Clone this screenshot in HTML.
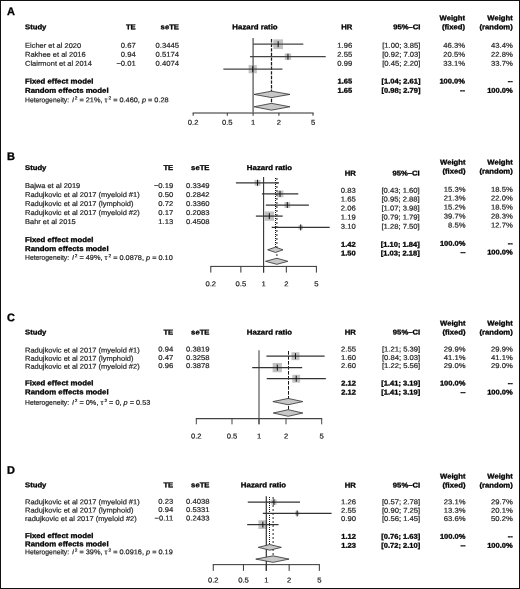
<!DOCTYPE html>
<html><head><meta charset="utf-8"><title>Forest plots</title>
<style>
html,body{margin:0;padding:0;background:#fff;}
body{width:520px;height:589px;overflow:hidden;position:relative;}
svg{position:absolute;left:0;top:0;display:block;}
text{font-family:"Liberation Sans",sans-serif;font-size:7px;fill:#242424;stroke:#242424;stroke-width:0.2px;}
text.b{font-weight:bold;fill:#000;stroke:#000;stroke-width:0.3px;}
#frame{position:absolute;left:0;top:0;width:518px;height:587px;border:1px solid #111;}
</style></head><body>
<svg width="520" height="589" viewBox="0 0 520 589">
<text class="b" text-anchor="start" transform="translate(7.00 14.95) scale(1 1) skewY(0.04)" style="font-size:11px" fill="#000">A</text>
<text class="b" text-anchor="start" transform="translate(25.00 29.15) scale(1.1 1) skewY(0.04)">Study</text>
<text class="b" text-anchor="end" transform="translate(135.75 29.15) scale(1.1 1) skewY(0.04)">TE</text>
<text class="b" text-anchor="end" transform="translate(179.00 29.15) scale(1.1 1) skewY(0.04)">seTE</text>
<text class="b" text-anchor="middle" transform="translate(255.00 29.15) scale(1.12 1) skewY(0.04)">Hazard ratio</text>
<text class="b" text-anchor="end" transform="translate(352.25 29.15) scale(1.1 1) skewY(0.04)">HR</text>
<text class="b" text-anchor="end" transform="translate(420.50 29.15) scale(1.1 1) skewY(0.04)">95%–CI</text>
<text class="b" text-anchor="end" transform="translate(465.00 20.15) scale(1.1 1) skewY(0.04)">Weight</text>
<text class="b" text-anchor="end" transform="translate(465.00 29.15) scale(1.1 1) skewY(0.04)">(fixed)</text>
<text class="b" text-anchor="end" transform="translate(512.75 20.15) scale(1.1 1) skewY(0.04)">Weight</text>
<text class="b" text-anchor="end" transform="translate(512.75 29.15) scale(1.1 1) skewY(0.04)">(random)</text>
<text class="r" text-anchor="start" transform="translate(25.00 47.85) scale(1.07 1) skewY(0.04)">Eicher et al 2020</text>
<text class="r" text-anchor="end" transform="translate(135.75 47.85) scale(1.095 1) skewY(0.04)">0.67</text>
<text class="r" text-anchor="end" transform="translate(179.00 47.85) scale(1.095 1) skewY(0.04)">0.3445</text>
<text class="r" text-anchor="end" transform="translate(352.25 47.85) scale(1.095 1) skewY(0.04)">1.96</text>
<text class="r" text-anchor="end" transform="translate(420.50 47.85) scale(1.095 1) skewY(0.04)">[1.00; 3.85]</text>
<text class="r" text-anchor="end" transform="translate(465.00 47.85) scale(1.095 1) skewY(0.04)">46.3%</text>
<text class="r" text-anchor="end" transform="translate(512.75 47.85) scale(1.095 1) skewY(0.04)">43.4%</text>
<text class="r" text-anchor="start" transform="translate(25.00 56.75) scale(1.07 1) skewY(0.04)">Rakhee et al 2016</text>
<text class="r" text-anchor="end" transform="translate(135.75 56.75) scale(1.095 1) skewY(0.04)">0.94</text>
<text class="r" text-anchor="end" transform="translate(179.00 56.75) scale(1.095 1) skewY(0.04)">0.5174</text>
<text class="r" text-anchor="end" transform="translate(352.25 56.75) scale(1.095 1) skewY(0.04)">2.55</text>
<text class="r" text-anchor="end" transform="translate(420.50 56.75) scale(1.095 1) skewY(0.04)">[0.92; 7.03]</text>
<text class="r" text-anchor="end" transform="translate(465.00 56.75) scale(1.095 1) skewY(0.04)">20.5%</text>
<text class="r" text-anchor="end" transform="translate(512.75 56.75) scale(1.095 1) skewY(0.04)">22.8%</text>
<text class="r" text-anchor="start" transform="translate(25.00 65.65) scale(1.07 1) skewY(0.04)">Clairmont et al 2014</text>
<text class="r" text-anchor="end" transform="translate(135.75 65.65) scale(1.095 1) skewY(0.04)">−0.01</text>
<text class="r" text-anchor="end" transform="translate(179.00 65.65) scale(1.095 1) skewY(0.04)">0.4074</text>
<text class="r" text-anchor="end" transform="translate(352.25 65.65) scale(1.095 1) skewY(0.04)">0.99</text>
<text class="r" text-anchor="end" transform="translate(420.50 65.65) scale(1.095 1) skewY(0.04)">[0.45; 2.20]</text>
<text class="r" text-anchor="end" transform="translate(465.00 65.65) scale(1.095 1) skewY(0.04)">33.1%</text>
<text class="r" text-anchor="end" transform="translate(512.75 65.65) scale(1.095 1) skewY(0.04)">33.7%</text>
<text class="b" text-anchor="start" transform="translate(25.00 83.55) scale(1.115 1) skewY(0.04)">Fixed effect model</text>
<text class="b" text-anchor="end" transform="translate(352.25 83.55) scale(1.08 1) skewY(0.04)">1.65</text>
<text class="b" text-anchor="end" transform="translate(420.50 83.55) scale(1.08 1) skewY(0.04)">[1.04; 2.61]</text>
<text class="b" text-anchor="end" transform="translate(465.00 83.55) scale(1.08 1) skewY(0.04)">100.0%</text>
<text class="b" text-anchor="end" transform="translate(512.75 83.55) scale(1.08 1) skewY(0.04)">--</text>
<text class="b" text-anchor="start" transform="translate(25.00 92.65) scale(1.115 1) skewY(0.04)">Random effects model</text>
<text class="b" text-anchor="end" transform="translate(352.25 92.65) scale(1.08 1) skewY(0.04)">1.65</text>
<text class="b" text-anchor="end" transform="translate(420.50 92.65) scale(1.08 1) skewY(0.04)">[0.98; 2.79]</text>
<text class="b" text-anchor="end" transform="translate(465.00 92.65) scale(1.08 1) skewY(0.04)">--</text>
<text class="b" text-anchor="end" transform="translate(512.75 92.65) scale(1.08 1) skewY(0.04)">100.0%</text>
<text class="r" style="font-size:6.9px" transform="translate(25 102.15) scale(0.985 1) skewY(0.04)">Heterogeneity:</text>
<text class="r" style="font-size:6.9px" transform="translate(72.10 102.15) scale(1.065 1) skewY(0.04)"><tspan font-style="italic">I</tspan><tspan dy="-2.6" dx="0.6" font-size="4.5">2</tspan><tspan dy="2.6"> = 21%, τ</tspan><tspan dy="-2.6" dx="1.0" font-size="4.5">2</tspan><tspan dy="2.6"> = 0.460, </tspan><tspan font-style="italic">p</tspan> = 0.28</text>
<rect x="273.31" y="39.35" width="9.70" height="9.70" fill="#c2c2c2"/>
<rect x="284.73" y="53.47" width="6.45" height="6.45" fill="#c2c2c2"/>
<rect x="248.62" y="65.10" width="8.20" height="8.20" fill="#c2c2c2"/>
<line x1="253.10" y1="38.10" x2="253.10" y2="113.00" stroke="#707070" stroke-width="1.5"/>
<line x1="271.50" y1="39.00" x2="271.50" y2="106.75" stroke="#1a1a1a" stroke-width="1.25" stroke-dasharray="3.40 1.20"/>
<line x1="253.10" y1="44.20" x2="303.30" y2="44.20" stroke="#444" stroke-width="1.2"/>
<line x1="278.16" y1="41.20" x2="278.16" y2="47.20" stroke="#111" stroke-width="1"/>
<line x1="249.99" y1="56.70" x2="325.72" y2="56.70" stroke="#444" stroke-width="1.2"/>
<line x1="287.96" y1="53.70" x2="287.96" y2="59.70" stroke="#111" stroke-width="1"/>
<line x1="223.36" y1="69.20" x2="282.46" y2="69.20" stroke="#444" stroke-width="1.2"/>
<line x1="252.73" y1="66.20" x2="252.73" y2="72.20" stroke="#111" stroke-width="1"/>
<polygon points="254.05,94.40 271.50,91.20 289.95,94.40 271.50,97.60" fill="#c8c8c8" stroke="#2e2e2e" stroke-width="0.8" stroke-linejoin="miter"/>
<polygon points="254.05,106.75 271.50,103.35 289.95,106.75 271.50,110.15" fill="#c8c8c8" stroke="#2e2e2e" stroke-width="0.8" stroke-linejoin="miter"/>
<line x1="192.66" y1="113.00" x2="313.54" y2="113.00" stroke="#707070" stroke-width="1.5"/>
<line x1="193.16" y1="113.00" x2="193.16" y2="115.80" stroke="#333" stroke-width="1"/>
<text class="r" text-anchor="middle" transform="translate(193.16 124.85) scale(1.095 1) skewY(0.04)">0.2</text>
<line x1="227.29" y1="113.00" x2="227.29" y2="115.80" stroke="#333" stroke-width="1"/>
<text class="r" text-anchor="middle" transform="translate(227.29 124.85) scale(1.095 1) skewY(0.04)">0.5</text>
<line x1="253.10" y1="113.00" x2="253.10" y2="115.80" stroke="#333" stroke-width="1"/>
<text class="r" text-anchor="middle" transform="translate(253.10 124.85) scale(1.095 1) skewY(0.04)">1</text>
<line x1="278.91" y1="113.00" x2="278.91" y2="115.80" stroke="#333" stroke-width="1"/>
<text class="r" text-anchor="middle" transform="translate(278.91 124.85) scale(1.095 1) skewY(0.04)">2</text>
<line x1="313.04" y1="113.00" x2="313.04" y2="115.80" stroke="#333" stroke-width="1"/>
<text class="r" text-anchor="middle" transform="translate(313.04 124.85) scale(1.095 1) skewY(0.04)">5</text>
<text class="b" text-anchor="start" transform="translate(7.00 159.95) scale(1 1) skewY(0.04)" style="font-size:11px" fill="#000">B</text>
<text class="b" text-anchor="start" transform="translate(25.00 169.90) scale(1.1 1) skewY(0.04)">Study</text>
<text class="b" text-anchor="end" transform="translate(173.25 169.90) scale(1.1 1) skewY(0.04)">TE</text>
<text class="b" text-anchor="end" transform="translate(209.50 169.90) scale(1.1 1) skewY(0.04)">seTE</text>
<text class="b" text-anchor="middle" transform="translate(269.50 169.90) scale(1.12 1) skewY(0.04)">Hazard ratio</text>
<text class="b" text-anchor="end" transform="translate(355.75 175.40) scale(1.1 1) skewY(0.04)">HR</text>
<text class="b" text-anchor="end" transform="translate(419.75 175.40) scale(1.1 1) skewY(0.04)">95%–CI</text>
<text class="b" text-anchor="end" transform="translate(465.50 164.40) scale(1.1 1) skewY(0.04)">Weight</text>
<text class="b" text-anchor="end" transform="translate(465.50 173.40) scale(1.1 1) skewY(0.04)">(fixed)</text>
<text class="b" text-anchor="end" transform="translate(512.75 164.40) scale(1.1 1) skewY(0.04)">Weight</text>
<text class="b" text-anchor="end" transform="translate(512.75 173.40) scale(1.1 1) skewY(0.04)">(random)</text>
<text class="r" text-anchor="start" transform="translate(25.00 187.90) scale(1.07 1) skewY(0.04)">Bajwa et al 2019</text>
<text class="r" text-anchor="end" transform="translate(173.25 187.90) scale(1.095 1) skewY(0.04)">−0.19</text>
<text class="r" text-anchor="end" transform="translate(209.50 187.90) scale(1.095 1) skewY(0.04)">0.3349</text>
<text class="r" text-anchor="end" transform="translate(355.75 192.65) scale(1.095 1) skewY(0.04)">0.83</text>
<text class="r" text-anchor="end" transform="translate(419.75 192.65) scale(1.095 1) skewY(0.04)">[0.43; 1.60]</text>
<text class="r" text-anchor="end" transform="translate(465.50 191.65) scale(1.095 1) skewY(0.04)">15.3%</text>
<text class="r" text-anchor="end" transform="translate(512.75 191.65) scale(1.095 1) skewY(0.04)">18.5%</text>
<text class="r" text-anchor="start" transform="translate(25.00 196.90) scale(1.07 1) skewY(0.04)">Radujkovic et al 2017 (myeloid #1)</text>
<text class="r" text-anchor="end" transform="translate(173.25 196.90) scale(1.095 1) skewY(0.04)">0.50</text>
<text class="r" text-anchor="end" transform="translate(209.50 196.90) scale(1.095 1) skewY(0.04)">0.2842</text>
<text class="r" text-anchor="end" transform="translate(355.75 201.55) scale(1.095 1) skewY(0.04)">1.65</text>
<text class="r" text-anchor="end" transform="translate(419.75 201.55) scale(1.095 1) skewY(0.04)">[0.95; 2.88]</text>
<text class="r" text-anchor="end" transform="translate(465.50 200.45) scale(1.095 1) skewY(0.04)">21.3%</text>
<text class="r" text-anchor="end" transform="translate(512.75 200.45) scale(1.095 1) skewY(0.04)">22.0%</text>
<text class="r" text-anchor="start" transform="translate(25.00 205.90) scale(1.07 1) skewY(0.04)">Radujkovic et al 2017 (lymphoid)</text>
<text class="r" text-anchor="end" transform="translate(173.25 205.90) scale(1.095 1) skewY(0.04)">0.72</text>
<text class="r" text-anchor="end" transform="translate(209.50 205.90) scale(1.095 1) skewY(0.04)">0.3360</text>
<text class="r" text-anchor="end" transform="translate(355.75 210.45) scale(1.095 1) skewY(0.04)">2.06</text>
<text class="r" text-anchor="end" transform="translate(419.75 210.45) scale(1.095 1) skewY(0.04)">[1.07; 3.98]</text>
<text class="r" text-anchor="end" transform="translate(465.50 209.45) scale(1.095 1) skewY(0.04)">15.2%</text>
<text class="r" text-anchor="end" transform="translate(512.75 209.45) scale(1.095 1) skewY(0.04)">18.5%</text>
<text class="r" text-anchor="start" transform="translate(25.00 214.90) scale(1.07 1) skewY(0.04)">Radujkovic et al 2017 (myeloid #2)</text>
<text class="r" text-anchor="end" transform="translate(173.25 214.90) scale(1.095 1) skewY(0.04)">0.17</text>
<text class="r" text-anchor="end" transform="translate(209.50 214.90) scale(1.095 1) skewY(0.04)">0.2083</text>
<text class="r" text-anchor="end" transform="translate(355.75 219.45) scale(1.095 1) skewY(0.04)">1.19</text>
<text class="r" text-anchor="end" transform="translate(419.75 219.45) scale(1.095 1) skewY(0.04)">[0.79; 1.79]</text>
<text class="r" text-anchor="end" transform="translate(465.50 218.45) scale(1.095 1) skewY(0.04)">39.7%</text>
<text class="r" text-anchor="end" transform="translate(512.75 218.45) scale(1.095 1) skewY(0.04)">28.3%</text>
<text class="r" text-anchor="start" transform="translate(25.00 223.90) scale(1.07 1) skewY(0.04)">Bahr et al 2015</text>
<text class="r" text-anchor="end" transform="translate(173.25 223.90) scale(1.095 1) skewY(0.04)">1.13</text>
<text class="r" text-anchor="end" transform="translate(209.50 223.90) scale(1.095 1) skewY(0.04)">0.4508</text>
<text class="r" text-anchor="end" transform="translate(355.75 228.75) scale(1.095 1) skewY(0.04)">3.10</text>
<text class="r" text-anchor="end" transform="translate(419.75 228.75) scale(1.095 1) skewY(0.04)">[1.28; 7.50]</text>
<text class="r" text-anchor="end" transform="translate(465.50 227.45) scale(1.095 1) skewY(0.04)">8.5%</text>
<text class="r" text-anchor="end" transform="translate(512.75 227.45) scale(1.095 1) skewY(0.04)">12.7%</text>
<text class="b" text-anchor="start" transform="translate(25.00 242.05) scale(1.115 1) skewY(0.04)">Fixed effect model</text>
<text class="b" text-anchor="end" transform="translate(355.75 246.65) scale(1.08 1) skewY(0.04)">1.42</text>
<text class="b" text-anchor="end" transform="translate(419.75 246.65) scale(1.08 1) skewY(0.04)">[1.10; 1.84]</text>
<text class="b" text-anchor="end" transform="translate(465.50 245.65) scale(1.08 1) skewY(0.04)">100.0%</text>
<text class="b" text-anchor="end" transform="translate(512.75 245.65) scale(1.08 1) skewY(0.04)">--</text>
<text class="b" text-anchor="start" transform="translate(25.00 250.95) scale(1.115 1) skewY(0.04)">Random effects model</text>
<text class="b" text-anchor="end" transform="translate(355.75 255.45) scale(1.08 1) skewY(0.04)">1.50</text>
<text class="b" text-anchor="end" transform="translate(419.75 255.45) scale(1.08 1) skewY(0.04)">[1.03; 2.18]</text>
<text class="b" text-anchor="end" transform="translate(465.50 254.45) scale(1.08 1) skewY(0.04)">--</text>
<text class="b" text-anchor="end" transform="translate(512.75 254.45) scale(1.08 1) skewY(0.04)">100.0%</text>
<text class="r" style="font-size:6.9px" transform="translate(25 259.85) scale(0.985 1) skewY(0.04)">Heterogeneity:</text>
<text class="r" style="font-size:6.9px" transform="translate(72.10 259.85) scale(1.065 1) skewY(0.04)"><tspan font-style="italic">I</tspan><tspan dy="-2.6" dx="0.6" font-size="4.5">2</tspan><tspan dy="2.6"> = 49%, τ</tspan><tspan dy="-2.6" dx="1.0" font-size="4.5">2</tspan><tspan dy="2.6"> = 0.0878, </tspan><tspan font-style="italic">p</tspan> = 0.10</text>
<rect x="254.60" y="179.91" width="5.77" height="5.77" fill="#c2c2c2"/>
<rect x="276.62" y="190.49" width="6.81" height="6.81" fill="#c2c2c2"/>
<rect x="284.43" y="202.12" width="5.75" height="5.75" fill="#c2c2c2"/>
<rect x="264.66" y="211.45" width="9.30" height="9.30" fill="#c2c2c2"/>
<rect x="298.56" y="225.25" width="4.30" height="4.30" fill="#c2c2c2"/>
<line x1="263.60" y1="177.10" x2="263.60" y2="272.60" stroke="#333" stroke-width="1.1"/>
<line x1="276.90" y1="178.00" x2="276.90" y2="261.30" stroke="#4a4a4a" stroke-width="1.2" stroke-dasharray="2.00 2.00"/>
<line x1="275.50" y1="178.00" x2="275.50" y2="249.80" stroke="#111" stroke-width="1" stroke-dasharray="1.00 1.00"/>
<line x1="235.92" y1="182.80" x2="279.02" y2="182.80" stroke="#333" stroke-width="1.25"/>
<line x1="257.49" y1="179.80" x2="257.49" y2="185.80" stroke="#111" stroke-width="1"/>
<line x1="261.92" y1="193.90" x2="298.30" y2="193.90" stroke="#333" stroke-width="1.25"/>
<line x1="280.03" y1="190.90" x2="280.03" y2="196.90" stroke="#111" stroke-width="1"/>
<line x1="265.82" y1="205.00" x2="308.91" y2="205.00" stroke="#333" stroke-width="1.25"/>
<line x1="287.30" y1="202.00" x2="287.30" y2="208.00" stroke="#111" stroke-width="1"/>
<line x1="255.87" y1="216.10" x2="282.70" y2="216.10" stroke="#333" stroke-width="1.25"/>
<line x1="269.31" y1="213.10" x2="269.31" y2="219.10" stroke="#111" stroke-width="1"/>
<line x1="271.70" y1="227.40" x2="329.69" y2="227.40" stroke="#333" stroke-width="1.25"/>
<line x1="300.71" y1="224.40" x2="300.71" y2="230.40" stroke="#111" stroke-width="1"/>
<polygon points="267.65,249.80 275.50,247.15 283.05,249.80 275.50,252.45" fill="#c8c8c8" stroke="#2e2e2e" stroke-width="0.8" stroke-linejoin="miter"/>
<polygon points="265.45,261.30 276.90,258.28 287.85,261.30 276.90,264.32" fill="#c8c8c8" stroke="#2e2e2e" stroke-width="0.8" stroke-linejoin="miter"/>
<line x1="210.31" y1="266.40" x2="316.89" y2="266.40" stroke="#333" stroke-width="1"/>
<line x1="210.81" y1="266.40" x2="210.81" y2="272.60" stroke="#333" stroke-width="1"/>
<text class="r" text-anchor="middle" transform="translate(210.81 286.15) scale(1.095 1) skewY(0.04)">0.2</text>
<line x1="240.86" y1="266.40" x2="240.86" y2="272.60" stroke="#333" stroke-width="1"/>
<text class="r" text-anchor="middle" transform="translate(240.86 286.15) scale(1.095 1) skewY(0.04)">0.5</text>
<line x1="263.60" y1="266.40" x2="263.60" y2="272.60" stroke="#333" stroke-width="1"/>
<text class="r" text-anchor="middle" transform="translate(263.60 286.15) scale(1.095 1) skewY(0.04)">1</text>
<line x1="286.34" y1="266.40" x2="286.34" y2="272.60" stroke="#333" stroke-width="1"/>
<text class="r" text-anchor="middle" transform="translate(286.34 286.15) scale(1.095 1) skewY(0.04)">2</text>
<line x1="316.39" y1="266.40" x2="316.39" y2="272.60" stroke="#333" stroke-width="1"/>
<text class="r" text-anchor="middle" transform="translate(316.39 286.15) scale(1.095 1) skewY(0.04)">5</text>
<text class="b" text-anchor="start" transform="translate(7.00 321.35) scale(1 1) skewY(0.04)" style="font-size:11px" fill="#000">C</text>
<text class="b" text-anchor="start" transform="translate(25.00 334.40) scale(1.1 1) skewY(0.04)">Study</text>
<text class="b" text-anchor="end" transform="translate(173.25 334.40) scale(1.1 1) skewY(0.04)">TE</text>
<text class="b" text-anchor="end" transform="translate(209.50 334.40) scale(1.1 1) skewY(0.04)">seTE</text>
<text class="b" text-anchor="middle" transform="translate(269.50 334.40) scale(1.12 1) skewY(0.04)">Hazard ratio</text>
<text class="b" text-anchor="end" transform="translate(355.90 334.40) scale(1.1 1) skewY(0.04)">HR</text>
<text class="b" text-anchor="end" transform="translate(420.20 334.40) scale(1.1 1) skewY(0.04)">95%–CI</text>
<text class="b" text-anchor="end" transform="translate(465.50 325.40) scale(1.1 1) skewY(0.04)">Weight</text>
<text class="b" text-anchor="end" transform="translate(465.50 334.40) scale(1.1 1) skewY(0.04)">(fixed)</text>
<text class="b" text-anchor="end" transform="translate(512.75 325.40) scale(1.1 1) skewY(0.04)">Weight</text>
<text class="b" text-anchor="end" transform="translate(512.75 334.40) scale(1.1 1) skewY(0.04)">(random)</text>
<text class="r" text-anchor="start" transform="translate(25.00 352.40) scale(1.07 1) skewY(0.04)">Radujkovic et al 2017 (myeloid #1)</text>
<text class="r" text-anchor="end" transform="translate(173.25 351.55) scale(1.095 1) skewY(0.04)">0.94</text>
<text class="r" text-anchor="end" transform="translate(209.50 351.55) scale(1.095 1) skewY(0.04)">0.3819</text>
<text class="r" text-anchor="end" transform="translate(355.90 351.55) scale(1.095 1) skewY(0.04)">2.55</text>
<text class="r" text-anchor="end" transform="translate(420.20 351.55) scale(1.095 1) skewY(0.04)">[1.21; 5.39]</text>
<text class="r" text-anchor="end" transform="translate(465.50 351.55) scale(1.095 1) skewY(0.04)">29.9%</text>
<text class="r" text-anchor="end" transform="translate(512.75 351.55) scale(1.095 1) skewY(0.04)">29.9%</text>
<text class="r" text-anchor="start" transform="translate(25.00 360.65) scale(1.07 1) skewY(0.04)">Radujkovic et al 2017 (lymphoid)</text>
<text class="r" text-anchor="end" transform="translate(173.25 359.95) scale(1.095 1) skewY(0.04)">0.47</text>
<text class="r" text-anchor="end" transform="translate(209.50 359.95) scale(1.095 1) skewY(0.04)">0.3258</text>
<text class="r" text-anchor="end" transform="translate(355.90 359.95) scale(1.095 1) skewY(0.04)">1.60</text>
<text class="r" text-anchor="end" transform="translate(420.20 359.95) scale(1.095 1) skewY(0.04)">[0.84; 3.03]</text>
<text class="r" text-anchor="end" transform="translate(465.50 359.95) scale(1.095 1) skewY(0.04)">41.1%</text>
<text class="r" text-anchor="end" transform="translate(512.75 359.95) scale(1.095 1) skewY(0.04)">41.1%</text>
<text class="r" text-anchor="start" transform="translate(25.00 368.75) scale(1.07 1) skewY(0.04)">Radujkovic et al 2017 (myeloid #2)</text>
<text class="r" text-anchor="end" transform="translate(173.25 368.05) scale(1.095 1) skewY(0.04)">0.96</text>
<text class="r" text-anchor="end" transform="translate(209.50 368.05) scale(1.095 1) skewY(0.04)">0.3878</text>
<text class="r" text-anchor="end" transform="translate(355.90 368.05) scale(1.095 1) skewY(0.04)">2.60</text>
<text class="r" text-anchor="end" transform="translate(420.20 368.05) scale(1.095 1) skewY(0.04)">[1.22; 5.56]</text>
<text class="r" text-anchor="end" transform="translate(465.50 368.05) scale(1.095 1) skewY(0.04)">29.0%</text>
<text class="r" text-anchor="end" transform="translate(512.75 368.05) scale(1.095 1) skewY(0.04)">29.0%</text>
<text class="b" text-anchor="start" transform="translate(25.00 385.15) scale(1.115 1) skewY(0.04)">Fixed effect model</text>
<text class="b" text-anchor="end" transform="translate(355.90 385.55) scale(1.08 1) skewY(0.04)">2.12</text>
<text class="b" text-anchor="end" transform="translate(420.20 385.55) scale(1.08 1) skewY(0.04)">[1.41; 3.19]</text>
<text class="b" text-anchor="end" transform="translate(465.50 385.55) scale(1.08 1) skewY(0.04)">100.0%</text>
<text class="b" text-anchor="end" transform="translate(512.75 385.55) scale(1.08 1) skewY(0.04)">--</text>
<text class="b" text-anchor="start" transform="translate(25.00 394.15) scale(1.115 1) skewY(0.04)">Random effects model</text>
<text class="b" text-anchor="end" transform="translate(355.90 394.55) scale(1.08 1) skewY(0.04)">2.12</text>
<text class="b" text-anchor="end" transform="translate(420.20 394.55) scale(1.08 1) skewY(0.04)">[1.41; 3.19]</text>
<text class="b" text-anchor="end" transform="translate(465.50 394.55) scale(1.08 1) skewY(0.04)">--</text>
<text class="b" text-anchor="end" transform="translate(512.75 394.55) scale(1.08 1) skewY(0.04)">100.0%</text>
<text class="r" style="font-size:6.9px" transform="translate(25 404.65) scale(0.985 1) skewY(0.04)">Heterogeneity:</text>
<text class="r" style="font-size:6.9px" transform="translate(72.10 404.65) scale(1.065 1) skewY(0.04)"><tspan font-style="italic">I</tspan><tspan dy="-2.6" dx="0.6" font-size="4.5">2</tspan><tspan dy="2.6"> = 0%, τ</tspan><tspan dy="-2.6" dx="1.0" font-size="4.5">2</tspan><tspan dy="2.6"> = 0, </tspan><tspan font-style="italic">p</tspan> = 0.53</text>
<rect x="291.50" y="352.23" width="7.93" height="7.93" fill="#c2c2c2"/>
<rect x="272.66" y="362.95" width="9.30" height="9.30" fill="#c2c2c2"/>
<rect x="292.32" y="374.79" width="7.81" height="7.81" fill="#c2c2c2"/>
<line x1="259.00" y1="350.30" x2="259.00" y2="424.30" stroke="#484848" stroke-width="1.1"/>
<line x1="288.50" y1="351.00" x2="288.50" y2="413.00" stroke="#1a1a1a" stroke-width="1" stroke-dasharray="3.70 1.30"/>
<line x1="266.43" y1="356.20" x2="324.63" y2="356.20" stroke="#333" stroke-width="1.25"/>
<line x1="295.47" y1="353.20" x2="295.47" y2="359.20" stroke="#111" stroke-width="1"/>
<line x1="252.21" y1="367.60" x2="302.19" y2="367.60" stroke="#333" stroke-width="1.25"/>
<line x1="277.31" y1="364.60" x2="277.31" y2="370.60" stroke="#111" stroke-width="1"/>
<line x1="266.75" y1="378.70" x2="325.84" y2="378.70" stroke="#333" stroke-width="1.25"/>
<line x1="296.23" y1="375.70" x2="296.23" y2="381.70" stroke="#111" stroke-width="1"/>
<polygon points="272.85,401.60 288.20,398.45 302.85,401.60 288.20,404.75" fill="#c8c8c8" stroke="#2e2e2e" stroke-width="0.8" stroke-linejoin="miter"/>
<polygon points="273.25,413.00 288.20,409.70 302.85,413.00 288.20,416.30" fill="#c8c8c8" stroke="#2e2e2e" stroke-width="0.8" stroke-linejoin="miter"/>
<line x1="195.80" y1="418.70" x2="322.20" y2="418.70" stroke="#444" stroke-width="1.2"/>
<line x1="196.30" y1="418.70" x2="196.30" y2="424.30" stroke="#444" stroke-width="1"/>
<text class="r" text-anchor="middle" transform="translate(196.30 438.45) scale(1.095 1) skewY(0.04)">0.2</text>
<line x1="231.99" y1="418.70" x2="231.99" y2="424.30" stroke="#444" stroke-width="1"/>
<text class="r" text-anchor="middle" transform="translate(231.99 438.45) scale(1.095 1) skewY(0.04)">0.5</text>
<line x1="259.00" y1="418.70" x2="259.00" y2="424.30" stroke="#444" stroke-width="1"/>
<text class="r" text-anchor="middle" transform="translate(259.00 438.45) scale(1.095 1) skewY(0.04)">1</text>
<line x1="286.01" y1="418.70" x2="286.01" y2="424.30" stroke="#444" stroke-width="1"/>
<text class="r" text-anchor="middle" transform="translate(286.01 438.45) scale(1.095 1) skewY(0.04)">2</text>
<line x1="321.70" y1="418.70" x2="321.70" y2="424.30" stroke="#444" stroke-width="1"/>
<text class="r" text-anchor="middle" transform="translate(321.70 438.45) scale(1.095 1) skewY(0.04)">5</text>
<text class="b" text-anchor="start" transform="translate(7.00 473.75) scale(1 1) skewY(0.04)" style="font-size:11px" fill="#000">D</text>
<text class="b" text-anchor="start" transform="translate(25.00 487.35) scale(1.1 1) skewY(0.04)">Study</text>
<text class="b" text-anchor="end" transform="translate(173.25 487.35) scale(1.1 1) skewY(0.04)">TE</text>
<text class="b" text-anchor="end" transform="translate(209.50 487.35) scale(1.1 1) skewY(0.04)">seTE</text>
<text class="b" text-anchor="middle" transform="translate(263.50 487.35) scale(1.12 1) skewY(0.04)">Hazard ratio</text>
<text class="b" text-anchor="end" transform="translate(355.90 487.60) scale(1.1 1) skewY(0.04)">HR</text>
<text class="b" text-anchor="end" transform="translate(420.20 487.60) scale(1.1 1) skewY(0.04)">95%–CI</text>
<text class="b" text-anchor="end" transform="translate(465.50 478.60) scale(1.1 1) skewY(0.04)">Weight</text>
<text class="b" text-anchor="end" transform="translate(465.50 487.60) scale(1.1 1) skewY(0.04)">(fixed)</text>
<text class="b" text-anchor="end" transform="translate(512.75 478.60) scale(1.1 1) skewY(0.04)">Weight</text>
<text class="b" text-anchor="end" transform="translate(512.75 487.60) scale(1.1 1) skewY(0.04)">(random)</text>
<text class="r" text-anchor="start" transform="translate(25.00 504.15) scale(1.07 1) skewY(0.04)">Radujkovic et al 2017 (myeloid #1)</text>
<text class="r" text-anchor="end" transform="translate(173.25 503.65) scale(1.095 1) skewY(0.04)">0.23</text>
<text class="r" text-anchor="end" transform="translate(209.50 503.65) scale(1.095 1) skewY(0.04)">0.4038</text>
<text class="r" text-anchor="end" transform="translate(355.90 504.25) scale(1.095 1) skewY(0.04)">1.26</text>
<text class="r" text-anchor="end" transform="translate(420.20 504.25) scale(1.095 1) skewY(0.04)">[0.57; 2.78]</text>
<text class="r" text-anchor="end" transform="translate(465.50 504.25) scale(1.095 1) skewY(0.04)">23.1%</text>
<text class="r" text-anchor="end" transform="translate(512.75 504.25) scale(1.095 1) skewY(0.04)">29.7%</text>
<text class="r" text-anchor="start" transform="translate(25.00 512.55) scale(1.07 1) skewY(0.04)">Radujkovic et al 2017 (lymphoid)</text>
<text class="r" text-anchor="end" transform="translate(173.25 512.05) scale(1.095 1) skewY(0.04)">0.94</text>
<text class="r" text-anchor="end" transform="translate(209.50 512.05) scale(1.095 1) skewY(0.04)">0.5331</text>
<text class="r" text-anchor="end" transform="translate(355.90 512.65) scale(1.095 1) skewY(0.04)">2.55</text>
<text class="r" text-anchor="end" transform="translate(420.20 512.65) scale(1.095 1) skewY(0.04)">[0.90; 7.25]</text>
<text class="r" text-anchor="end" transform="translate(465.50 512.65) scale(1.095 1) skewY(0.04)">13.3%</text>
<text class="r" text-anchor="end" transform="translate(512.75 512.65) scale(1.095 1) skewY(0.04)">20.1%</text>
<text class="r" text-anchor="start" transform="translate(25.00 521.05) scale(1.07 1) skewY(0.04)">radujkovic et al 2017 (myeloid #2)</text>
<text class="r" text-anchor="end" transform="translate(173.25 520.45) scale(1.095 1) skewY(0.04)">−0.11</text>
<text class="r" text-anchor="end" transform="translate(209.50 520.45) scale(1.095 1) skewY(0.04)">0.2433</text>
<text class="r" text-anchor="end" transform="translate(355.90 521.05) scale(1.095 1) skewY(0.04)">0.90</text>
<text class="r" text-anchor="end" transform="translate(420.20 521.05) scale(1.095 1) skewY(0.04)">[0.56; 1.45]</text>
<text class="r" text-anchor="end" transform="translate(465.50 521.05) scale(1.095 1) skewY(0.04)">63.6%</text>
<text class="r" text-anchor="end" transform="translate(512.75 521.05) scale(1.095 1) skewY(0.04)">50.2%</text>
<text class="b" text-anchor="start" transform="translate(25.00 538.05) scale(1.115 1) skewY(0.04)">Fixed effect model</text>
<text class="b" text-anchor="end" transform="translate(355.90 538.75) scale(1.08 1) skewY(0.04)">1.12</text>
<text class="b" text-anchor="end" transform="translate(420.20 538.75) scale(1.08 1) skewY(0.04)">[0.76; 1.63]</text>
<text class="b" text-anchor="end" transform="translate(465.50 538.75) scale(1.08 1) skewY(0.04)">100.0%</text>
<text class="b" text-anchor="end" transform="translate(512.75 538.75) scale(1.08 1) skewY(0.04)">--</text>
<text class="b" text-anchor="start" transform="translate(25.00 546.15) scale(1.115 1) skewY(0.04)">Random effects model</text>
<text class="b" text-anchor="end" transform="translate(355.90 547.75) scale(1.08 1) skewY(0.04)">1.23</text>
<text class="b" text-anchor="end" transform="translate(420.20 547.75) scale(1.08 1) skewY(0.04)">[0.72; 2.10]</text>
<text class="b" text-anchor="end" transform="translate(465.50 547.75) scale(1.08 1) skewY(0.04)">--</text>
<text class="b" text-anchor="end" transform="translate(512.75 547.75) scale(1.08 1) skewY(0.04)">100.0%</text>
<text class="r" style="font-size:6.9px" transform="translate(25 554.25) scale(0.985 1) skewY(0.04)">Heterogeneity:</text>
<text class="r" style="font-size:6.9px" transform="translate(72.10 554.25) scale(1.065 1) skewY(0.04)"><tspan font-style="italic">I</tspan><tspan dy="-2.6" dx="0.6" font-size="4.5">2</tspan><tspan dy="2.6"> = 39%, τ</tspan><tspan dy="-2.6" dx="1.0" font-size="4.5">2</tspan><tspan dy="2.6"> = 0.0916, </tspan><tspan font-style="italic">p</tspan> = 0.19</text>
<rect x="271.27" y="499.45" width="5.30" height="5.30" fill="#c2c2c2"/>
<rect x="295.14" y="511.39" width="4.02" height="4.02" fill="#c2c2c2"/>
<rect x="258.43" y="520.20" width="8.80" height="8.80" fill="#c2c2c2"/>
<line x1="266.30" y1="496.20" x2="266.30" y2="570.85" stroke="#333" stroke-width="1.2"/>
<line x1="273.10" y1="497.00" x2="273.10" y2="559.10" stroke="#4a4a4a" stroke-width="1.2" stroke-dasharray="2.00 2.00"/>
<line x1="269.50" y1="497.00" x2="269.50" y2="547.35" stroke="#111" stroke-width="1" stroke-dasharray="1.00 1.00"/>
<line x1="247.77" y1="502.10" x2="300.00" y2="502.10" stroke="#333" stroke-width="1.25"/>
<line x1="273.92" y1="499.10" x2="273.92" y2="505.10" stroke="#111" stroke-width="1"/>
<line x1="262.83" y1="513.40" x2="331.59" y2="513.40" stroke="#333" stroke-width="1.25"/>
<line x1="297.15" y1="510.40" x2="297.15" y2="516.40" stroke="#111" stroke-width="1"/>
<line x1="247.19" y1="524.60" x2="278.55" y2="524.60" stroke="#333" stroke-width="1.25"/>
<line x1="262.83" y1="521.60" x2="262.83" y2="527.60" stroke="#111" stroke-width="1"/>
<polygon points="258.25,547.35 269.80,544.50 281.35,547.35 269.80,550.20" fill="#c8c8c8" stroke="#2e2e2e" stroke-width="0.8" stroke-linejoin="miter"/>
<polygon points="255.75,559.10 273.00,555.85 289.05,559.10 273.00,562.35" fill="#c8c8c8" stroke="#2e2e2e" stroke-width="0.8" stroke-linejoin="miter"/>
<line x1="212.75" y1="564.65" x2="319.85" y2="564.65" stroke="#333" stroke-width="1"/>
<line x1="213.25" y1="564.65" x2="213.25" y2="570.85" stroke="#333" stroke-width="1"/>
<text class="r" text-anchor="middle" transform="translate(213.25 582.55) scale(1.095 1) skewY(0.04)">0.2</text>
<line x1="243.45" y1="564.65" x2="243.45" y2="570.85" stroke="#333" stroke-width="1"/>
<text class="r" text-anchor="middle" transform="translate(243.45 582.55) scale(1.095 1) skewY(0.04)">0.5</text>
<line x1="266.30" y1="564.65" x2="266.30" y2="570.85" stroke="#333" stroke-width="1"/>
<text class="r" text-anchor="middle" transform="translate(266.30 582.55) scale(1.095 1) skewY(0.04)">1</text>
<line x1="289.15" y1="564.65" x2="289.15" y2="570.85" stroke="#333" stroke-width="1"/>
<text class="r" text-anchor="middle" transform="translate(289.15 582.55) scale(1.095 1) skewY(0.04)">2</text>
<line x1="319.35" y1="564.65" x2="319.35" y2="570.85" stroke="#333" stroke-width="1"/>
<text class="r" text-anchor="middle" transform="translate(319.35 582.55) scale(1.095 1) skewY(0.04)">5</text>
</svg>
<div id="frame"></div>
</body></html>
